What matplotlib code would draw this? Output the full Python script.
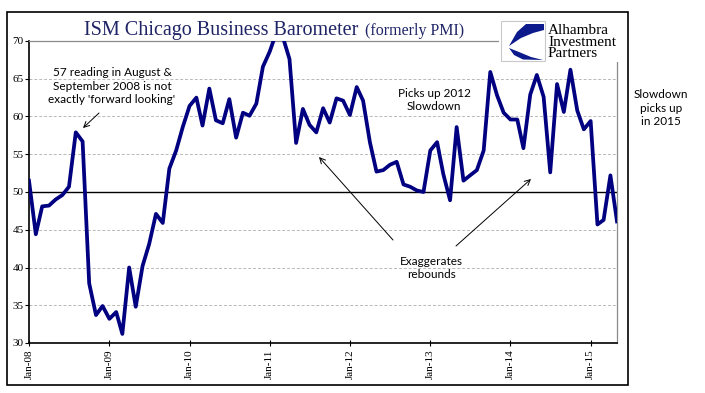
import matplotlib
matplotlib.use('Agg')
import matplotlib.pyplot as plt
import pandas as pd
from matplotlib.patches import Rectangle, Polygon, FancyArrowPatch

# ---------------- data ----------------
months = pd.date_range('2008-01-01', periods=89, freq='MS')
barometer = [
    51.5, 44.4, 48.1, 48.2, 49.0, 49.6, 50.7, 57.9, 56.7, 37.9, 33.7, 34.9,   # 2008
    33.2, 34.1, 31.2, 40.0, 34.8, 40.2, 43.1, 47.1, 45.9, 53.1, 55.5, 58.6,   # 2009
    61.4, 62.5, 58.8, 63.7, 59.5, 59.1, 62.3, 57.2, 60.5, 60.1, 61.7, 66.6,   # 2010
    68.6, 71.2, 70.6, 67.6, 56.5, 61.0, 58.9, 57.9, 61.1, 59.2, 62.4, 62.1,   # 2011
    60.2, 63.9, 62.1, 56.6, 52.7, 52.9, 53.6, 54.0, 51.0, 50.7, 50.2, 50.0,   # 2012
    55.5, 56.6, 52.4, 48.9, 58.6, 51.5, 52.2, 52.9, 55.5, 65.9, 62.8, 60.5,   # 2013
    59.6, 59.6, 55.8, 62.9, 65.5, 62.6, 52.6, 64.3, 60.6, 66.2, 60.8, 58.3,   # 2014
    59.4, 45.7, 46.3, 52.2, 46.1,                                             # 2015
]
yticks = [30, 35, 40, 45, 50, 55, 60, 65, 70]
tick_years = list(range(2008, 2016))
tick_labels = [f'Jan-{y % 100:02d}' for y in tick_years]

title_main = 'ISM Chicago Business Barometer'
title_sub = '(formerly PMI)'
note_2008 = "57 reading in August &\nSeptember 2008 is not\nexactly 'forward looking'"
note_2012 = 'Picks up 2012\nSlowdown'
note_2015 = 'Slowdown\npicks up\nin 2015'
note_rebound = 'Exaggerates\nrebounds'
logo_text = 'Alhambra\nInvestment\nPartners'

# ---------------- layout helpers ----------------
W, H = 705, 393
def fx(x):
    return x / W
def fy(y):
    return 1 - y / H
def P(x, y):
    return (fx(x), fy(y))

SERIF = ['Liberation Serif', 'DejaVu Serif']
SANS = ['Lato', 'DejaVu Sans']
NAVY = '#000080'
TITLE_C = '#1f2466'

fig = plt.figure(figsize=(7.05, 3.93), dpi=100)
fig.patch.set_facecolor('white')

ax = fig.add_axes([fx(29), fy(343), fx(617) - fx(29), fy(41) - fy(343)])
ax.plot(months, barometer, color=NAVY, lw=2.7, solid_joinstyle='round', zorder=3)
ax.set_ylim(30, 70)
ax.set_xlim(months[0], months[-1])

for y in yticks:
    if y in (30, 70):
        continue
    if y == 50:
        ax.axhline(y, color='black', lw=1.0, zorder=2)
    else:
        ax.axhline(y, color='#b8b8b8', lw=0.7, ls=(0, (3, 2)), zorder=1)

for s in ('left', 'bottom'):
    ax.spines[s].set_color('black')
    ax.spines[s].set_linewidth(1.2)
for s in ('top', 'right'):
    ax.spines[s].set_color('#8a8a8a')
    ax.spines[s].set_linewidth(0.9)

ax.set_yticks(yticks)
ax.set_yticklabels([str(v) for v in yticks], fontfamily=SERIF, fontsize=8)
ax.set_xticks([pd.Timestamp(f'{y}-01-01') for y in tick_years])
ax.set_xticklabels(tick_labels, rotation=90, fontfamily=SERIF, fontsize=8)
ax.tick_params(axis='y', direction='out', length=3, width=0.8, pad=1)
ax.tick_params(axis='x', direction='inout', length=5, width=0.8, pad=2)

# title
fig.text(fx(84), fy(35), title_main, fontfamily=SERIF, fontsize=14.5,
         color=TITLE_C, va='baseline', ha='left')
fig.text(fx(365), fy(35), title_sub, fontfamily=SERIF, fontsize=11.5,
         color=TITLE_C, va='baseline', ha='left')

# white area behind logo (hides spine pieces)
fig.patches.append(Rectangle(P(499, 62), fx(626) - fx(499), fy(14) - fy(62),
                             transform=fig.transFigure, facecolor='white',
                             edgecolor='none', zorder=5))
# logo box
fig.patches.append(Rectangle(P(501, 61), fx(545) - fx(501), fy(21) - fy(61),
                             transform=fig.transFigure, facecolor='white',
                             edgecolor='#c8c8c8', lw=0.8, zorder=6))
upper = [P(544, 24), P(526, 24), P(517, 32), P(509, 46), P(521, 38),
         P(533, 33), P(544, 30)]
lower = [P(509, 48), P(514, 55), P(523, 59.5), P(543, 60), P(531, 57), P(519, 52)]
for poly in (upper, lower):
    fig.patches.append(Polygon(poly, closed=True, transform=fig.transFigure,
                               facecolor='#0d1a8c', edgecolor='none', zorder=7))
fig.text(fx(548), fy(42), logo_text, fontfamily=SERIF, fontsize=11,
         color='black', va='center', ha='left', linespacing=0.82, zorder=8)

# outer frame
fig.patches.append(Rectangle(P(7, 385), fx(628) - fx(7), fy(12) - fy(385),
                             transform=fig.transFigure, facecolor='none',
                             edgecolor='black', lw=1.2, zorder=9))

# annotations
fig.text(fx(112), fy(86), note_2008, fontfamily=SANS, fontsize=8.5,
         ha='center', va='center', linespacing=1.25)
fig.text(fx(434), fy(100), note_2012, fontfamily=SANS, fontsize=8.5,
         ha='center', va='center', linespacing=1.25)
fig.text(fx(661), fy(108), note_2015, fontfamily=SANS, fontsize=8.5,
         ha='center', va='center', linespacing=1.25)
fig.text(fx(431), fy(268), note_rebound, fontfamily=SANS, fontsize=8.5,
         ha='center', va='center', linespacing=1.25)

arrow_kw = dict(arrowstyle='->', color='black', lw=0.7, shrinkA=0, shrinkB=0,
                mutation_scale=10)
for start, end in [((99, 113), (83, 128)),
                   ((393, 240), (319, 157)),
                   ((456, 246), (531, 179))]:
    fig.add_artist(FancyArrowPatch(P(*start), P(*end),
                                   transform=fig.transFigure, **arrow_kw))

fig.savefig('out.png', dpi=100, facecolor='white')
